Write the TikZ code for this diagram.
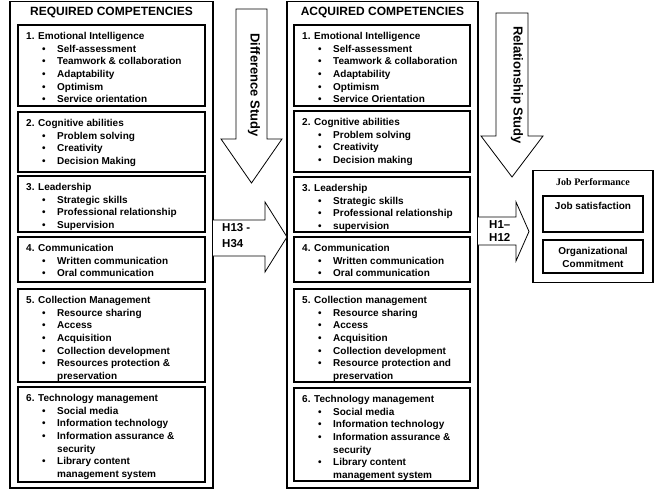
\documentclass[tikz,border=0pt]{standalone}
\usepackage{fontspec}
\setmainfont{Liberation Sans}
\newfontfamily\jpfont{Liberation Serif}
\newcommand\bl[1]{\makebox[31pt][l]{\hspace{16pt}\textbullet}#1}
\newcommand\cn[1]{\makebox[31pt][l]{}#1}
\begin{document}
\begin{tikzpicture}[x=1pt,y=-1pt,
  obox/.style={draw, line width=1.8pt, anchor=north west, inner sep=0pt, outer sep=0pt},
  ibox/.style={draw, line width=1.8pt, anchor=north west, inner sep=0pt, outer sep=0pt},
  jbox/.style={draw, line width=1.4pt, anchor=north west, inner sep=0pt, outer sep=0pt},
  txt/.style={anchor=north west, inner sep=0pt, align=left, font=\fontsize{10}{12.6}\selectfont\bfseries},
  ttl/.style={font=\fontsize{12}{14}\selectfont\bfseries, inner sep=0pt},
  rot/.style={font=\fontsize{13}{14}\selectfont\bfseries, rotate=-90, inner sep=0pt},
  hlab/.style={anchor=west, align=left, inner sep=0pt},
  blk/.style={draw, fill=white, line width=0.8pt, line join=miter}
]
\useasboundingbox (0,0) rectangle (656,492);
\fill[white] (0,0) rectangle (656,492);

% ---------- left column ----------
\node[obox, minimum width=203pt, minimum height=486.5pt] (req) at (10,1.5) {};
\node[ttl] (reqt) at (111.5,12) {REQUIRED COMPETENCIES};

\node[ibox, minimum width=187pt, minimum height=81pt] (l1) at (18,25) {};
\node[ibox, minimum width=187pt, minimum height=60pt] (l2) at (18,112) {};
\node[ibox, minimum width=187pt, minimum height=56pt] (l3) at (18,176) {};
\node[ibox, minimum width=187pt, minimum height=45pt] (l4) at (18,237) {};
\node[ibox, minimum width=187pt, minimum height=93pt] (l5) at (18,289) {};
\node[ibox, minimum width=187pt, minimum height=95pt] (l6) at (18,387) {};

\node[txt] (l1t) at ([xshift=8pt,yshift=-7.3pt]l1.north west) {1. Emotional Intelligence\\\bl{Self-assessment}\\\bl{Teamwork \& collaboration}\\\bl{Adaptability}\\\bl{Optimism}\\\bl{Service orientation}};
\node[txt] (l2t) at ([xshift=8pt,yshift=-7.3pt]l2.north west) {2. Cognitive abilities\\\bl{Problem solving}\\\bl{Creativity}\\\bl{Decision Making}};
\node[txt] (l3t) at ([xshift=8pt,yshift=-7.3pt]l3.north west) {3. Leadership\\\bl{Strategic skills}\\\bl{Professional relationship}\\\bl{Supervision}};
\node[txt] (l4t) at ([xshift=8pt,yshift=-7.3pt]l4.north west) {4. Communication\\\bl{Written communication}\\\bl{Oral communication}};
\node[txt] (l5t) at ([xshift=8pt,yshift=-7.3pt]l5.north west) {5. Collection Management\\\bl{Resource sharing}\\\bl{Access}\\\bl{Acquisition}\\\bl{Collection development}\\\bl{Resources protection \&}\\\cn{preservation}};
\node[txt] (l6t) at ([xshift=8pt,yshift=-7.3pt]l6.north west) {6. Technology management\\\bl{Social media}\\\bl{Information technology}\\\bl{Information assurance \&}\\\cn{security}\\\bl{Library content}\\\cn{management system}};

% ---------- right column ----------
\node[obox, minimum width=191pt, minimum height=486.5pt] (acq) at (287,1.5) {};
\node[ttl] (acqt) at (382.5,12) {ACQUIRED COMPETENCIES};

\node[ibox, minimum width=176pt, minimum height=81pt] (r1) at (294,25) {};
\node[ibox, minimum width=176pt, minimum height=61pt] (r2) at (294,111) {};
\node[ibox, minimum width=176pt, minimum height=55pt] (r3) at (294,177) {};
\node[ibox, minimum width=176pt, minimum height=45pt] (r4) at (294,237) {};
\node[ibox, minimum width=176pt, minimum height=93pt] (r5) at (294,289) {};
\node[ibox, minimum width=176pt, minimum height=93pt] (r6) at (294,388) {};

\node[txt] (r1t) at ([xshift=8pt,yshift=-7.3pt]r1.north west) {1. Emotional Intelligence\\\bl{Self-assessment}\\\bl{Teamwork \& collaboration}\\\bl{Adaptability}\\\bl{Optimism}\\\bl{Service Orientation}};
\node[txt] (r2t) at ([xshift=8pt,yshift=-7.3pt]r2.north west) {2. Cognitive abilities\\\bl{Problem solving}\\\bl{Creativity}\\\bl{Decision making}};
\node[txt] (r3t) at ([xshift=8pt,yshift=-7.3pt]r3.north west) {3. Leadership\\\bl{Strategic skills}\\\bl{Professional relationship}\\\bl{supervision}};
\node[txt] (r4t) at ([xshift=8pt,yshift=-7.3pt]r4.north west) {4. Communication\\\bl{Written communication}\\\bl{Oral communication}};
\node[txt] (r5t) at ([xshift=8pt,yshift=-7.3pt]r5.north west) {5. Collection management\\\bl{Resource sharing}\\\bl{Access}\\\bl{Acquisition}\\\bl{Collection development}\\\bl{Resource protection and}\\\cn{preservation}};
\node[txt] (r6t) at ([xshift=8pt,yshift=-7.3pt]r6.north west) {6. Technology management\\\bl{Social media}\\\bl{Information technology}\\\bl{Information assurance \&}\\\cn{security}\\\bl{Library content}\\\cn{management system}};

% ---------- block arrows ----------
\draw[blk] (236,9) -- (267,9) -- (267,139) -- (282,139) -- (251.5,183) -- (221,139) -- (236,139) -- cycle;
\node[rot] (dst) at (254,85) {Difference Study};

\draw[blk] (req.east |- 0,220) -- (265,220) -- (265,202) -- (acq.west |- 0,237) -- (265,272) -- (265,256) -- (req.east |- 0,256);
\node[hlab, font=\fontsize{11.5}{16}\selectfont\bfseries] (h1) at (222,236) {H13 -\\H34};

\draw[blk] (496,13) -- (528,13) -- (528,136) -- (543,136) -- (512,177) -- (481,136) -- (496,136) -- cycle;
\node[rot] (rst) at (517,85) {Relationship Study};

\draw[blk] (acq.east |- 0,217) -- (516,217) -- (516,202) -- (529,231.5) -- (516,261) -- (516,245) -- (acq.east |- 0,245);
\node[hlab, font=\fontsize{11.5}{12.7}\selectfont\bfseries] (h2) at (489,231) {H1--\\H12};

% ---------- job performance ----------
\node[jbox, minimum width=120pt, minimum height=112pt] (jp) at (533,170.5) {};
\node[font=\jpfont\fontsize{10}{12}\selectfont\bfseries, inner sep=0pt] (jpt) at (593,182) {Job Performance};
\node[jbox, minimum width=100pt, minimum height=36pt] (js) at (543,196) {};
\node[font=\fontsize{10}{12}\selectfont\bfseries, inner sep=0pt] (jst) at (593,206) {Job satisfaction};
\node[jbox, minimum width=100pt, minimum height=33pt] (oc) at (543,240) {};
\node[font=\fontsize{10}{13}\selectfont\bfseries, inner sep=0pt, align=center] (oct) at (593,257) {Organizational\\Commitment};
\end{tikzpicture}
\end{document}
